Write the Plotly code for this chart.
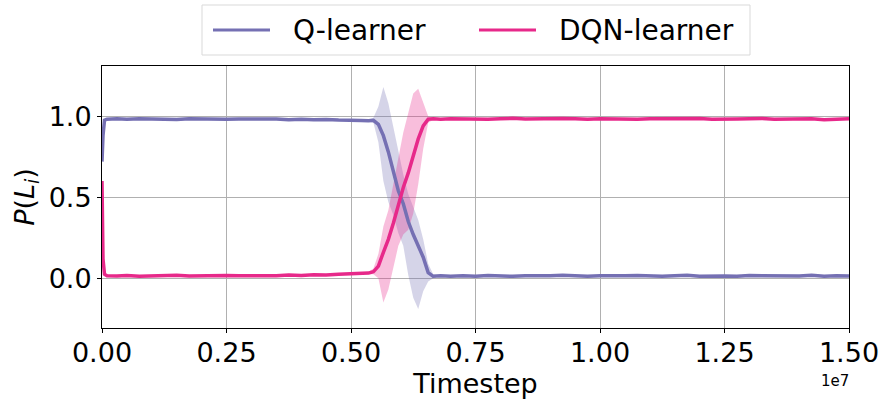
import plotly.graph_objects as go

# Timesteps in units of 1e7
T = [0, 0.002, 0.005, 0.01, 0.03, 0.05, 0.075, 0.1, 0.125, 0.15, 0.175, 0.2, 0.225, 0.25,
     0.275, 0.3, 0.325, 0.35, 0.375, 0.4, 0.425, 0.45, 0.475, 0.5, 0.52, 0.535,
     0.545, 0.555, 0.565, 0.575, 0.585, 0.595, 0.605, 0.615, 0.625, 0.635, 0.645, 0.655, 0.665,
     0.68, 0.7,
     0.725, 0.75, 0.775, 0.8, 0.825, 0.85, 0.875, 0.9, 0.925, 0.95, 0.975, 1.0, 1.025, 1.05,
     1.075, 1.1, 1.125, 1.15, 1.175, 1.2, 1.225, 1.25, 1.275, 1.3, 1.325, 1.35, 1.375, 1.4,
     1.425, 1.45, 1.475, 1.5]

q_mean = [0.72, 0.88, 0.975, 0.982, 0.984, 0.981, 0.985, 0.982, 0.983, 0.980, 0.984, 0.982, 0.985, 0.981,
          0.983, 0.984, 0.980, 0.983, 0.979, 0.982, 0.978, 0.980, 0.976, 0.977, 0.974, 0.972,
          0.975, 0.95, 0.88, 0.78, 0.66, 0.54, 0.46, 0.35, 0.27, 0.2, 0.13, 0.035, 0.012,
          0.015, 0.012,
          0.016, 0.013, 0.017, 0.014, 0.012, 0.016, 0.013, 0.015, 0.018, 0.014, 0.012, 0.016, 0.013, 0.015,
          0.017, 0.014, 0.012, 0.015, 0.018, 0.013, 0.016, 0.014, 0.012, 0.017, 0.015, 0.013, 0.016, 0.014,
          0.018, 0.013, 0.015, 0.014]

dqn_mean = [0.6, 0.12, 0.025, 0.016, 0.014, 0.017, 0.013, 0.016, 0.015, 0.018, 0.014, 0.016, 0.013, 0.017,
            0.015, 0.014, 0.018, 0.015, 0.02, 0.017, 0.022, 0.02, 0.025, 0.027, 0.03, 0.032,
            0.04, 0.075, 0.16, 0.24, 0.34, 0.46, 0.56, 0.65, 0.76, 0.86, 0.94, 0.982, 0.984,
            0.982, 0.985,
            0.983, 0.986, 0.982, 0.984, 0.987, 0.983, 0.985, 0.982, 0.986, 0.984, 0.981, 0.985, 0.983, 0.986,
            0.982, 0.984, 0.985, 0.981, 0.984, 0.986, 0.982, 0.985, 0.983, 0.984, 0.986, 0.982, 0.984, 0.983,
            0.985, 0.978, 0.982, 0.984]

# Shaded spread bands during the transition
T_band = [0.535, 0.545, 0.555, 0.565, 0.575, 0.585, 0.595, 0.605, 0.615, 0.625, 0.635, 0.645, 0.655, 0.665, 0.675]
q_hi = [0.98, 0.99, 1.06, 1.18, 1.08, 0.93, 0.8, 0.64, 0.52, 0.44, 0.36, 0.24, 0.09, 0.025, 0.02]
q_lo = [0.965, 0.96, 0.84, 0.6, 0.47, 0.39, 0.28, 0.2, 0.02, -0.12, -0.19, -0.08, -0.02, 0.0, 0.01]
d_hi = [0.04, 0.06, 0.15, 0.32, 0.42, 0.57, 0.74, 0.9, 1.03, 1.14, 1.17, 1.09, 1.0, 0.99, 0.99]
d_lo = [0.025, 0.025, 0.0, -0.15, -0.07, 0.06, 0.2, 0.27, 0.3, 0.4, 0.58, 0.8, 0.96, 0.978, 0.98]

x_ticks = [0, 0.25, 0.5, 0.75, 1.0, 1.25, 1.5]
x_tick_text = ["0.00", "0.25", "0.50", "0.75", "1.00", "1.25", "1.50"]
y_ticks = [0, 0.5, 1.0]
y_tick_text = ["0.0", "0.5", "1.0"]
series_names = ["Q-learner", "DQN-learner"]
SCALE = 1e7

Q_COLOR = "#7570b3"
D_COLOR = "#e7298a"

W, H = 885, 405
ML, MR, MT, MB = 102, 36, 66, 77
PW, PH = W - ML - MR, H - MT - MB


def px(x):
    return (x - ML) / PW


def py(y):
    return (H - MB - y) / PH


xs = [t * SCALE for t in T]
xb = [t * SCALE for t in T_band]

fig = go.Figure()
fig.add_trace(go.Scatter(x=xb + xb[::-1], y=q_hi + q_lo[::-1], fill="toself",
                         fillcolor="rgba(117,112,179,0.3)", line=dict(width=0),
                         showlegend=False, hoverinfo="skip"))
fig.add_trace(go.Scatter(x=xb + xb[::-1], y=d_hi + d_lo[::-1], fill="toself",
                         fillcolor="rgba(231,41,138,0.3)", line=dict(width=0),
                         showlegend=False, hoverinfo="skip"))
fig.add_trace(go.Scatter(x=xs, y=q_mean, mode="lines", name=series_names[0],
                         line=dict(color=Q_COLOR, width=3.5), showlegend=False))
fig.add_trace(go.Scatter(x=xs, y=dqn_mean, mode="lines", name=series_names[1],
                         line=dict(color=D_COLOR, width=3.5), showlegend=False))

axis_common = dict(showline=True, linecolor="black", linewidth=1, mirror=True,
                   showgrid=True, gridcolor="#b0b0b0", gridwidth=1, zeroline=False,
                   ticks="outside", ticklen=4, tickcolor="black", automargin=False,
                   tickfont=dict(size=27, color="black"))

# Manual legend (matplotlib style): box, handles, labels
shapes = [
    dict(type="rect", xref="paper", yref="paper", x0=px(202), x1=px(750), y0=py(55), y1=py(5),
         line=dict(color="#d9d9d9", width=1), fillcolor="white", layer="above"),
    dict(type="line", xref="paper", yref="paper", x0=px(213), x1=px(270), y0=py(30), y1=py(30),
         line=dict(color=Q_COLOR, width=3), layer="above"),
    dict(type="line", xref="paper", yref="paper", x0=px(479), x1=px(536), y0=py(30), y1=py(30),
         line=dict(color=D_COLOR, width=3), layer="above"),
]
annotations = [
    dict(text=series_names[0], xref="paper", yref="paper", x=px(291), y=py(30), xanchor="left",
         yanchor="middle", showarrow=False, font=dict(size=28, color="black")),
    dict(text=series_names[1], xref="paper", yref="paper", x=px(557), y=py(30), xanchor="left",
         yanchor="middle", showarrow=False, font=dict(size=28, color="black")),
    dict(text="1e7", xref="paper", yref="paper", x=px(851), y=py(381), xanchor="right",
         yanchor="middle", showarrow=False, font=dict(size=15, color="black")),
]

fig.update_layout(
    width=W, height=H,
    margin=dict(l=ML, r=MR, t=MT, b=MB),
    plot_bgcolor="white", paper_bgcolor="white",
    font=dict(family="DejaVu Sans", color="black"),
    showlegend=False,
    xaxis=dict(range=[0, 1.5 * SCALE], tickvals=[v * SCALE for v in x_ticks], ticktext=x_tick_text,
               ticklabelstandoff=-3,
               title=dict(text="Timestep", font=dict(size=27), standoff=0), **axis_common),
    yaxis=dict(range=[-0.307, 1.31], tickvals=y_ticks, ticktext=y_tick_text,
               title=dict(text="<i>P</i>(<i>L<sub>i</sub></i>)", font=dict(size=27), standoff=6),
               **axis_common),
    shapes=shapes,
    annotations=annotations,
)

fig.write_html("out.html")
